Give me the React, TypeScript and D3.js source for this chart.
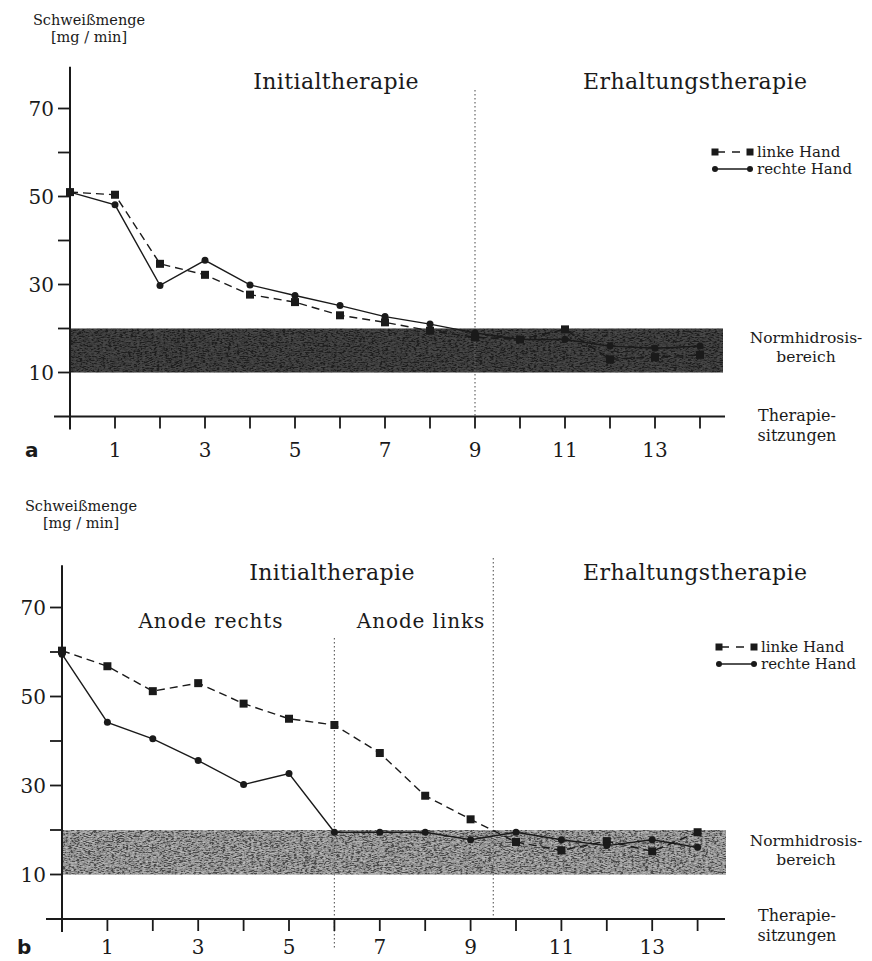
import React from "react";
import * as d3 from "d3";

const sessions = [0, 1, 2, 3, 4, 5, 6, 7, 8, 9, 10, 11, 12, 13, 14];
const xTickLabels = [1, 3, 5, 7, 9, 11, 13];
const yTickValues = [10, 20, 30, 40, 50, 60, 70];
const yTickLabels = [10, 30, 50, 70];
const normBand = [10, 20];

const topLinke = [51, 50.4, 34.7, 32.2, 27.7, 26, 23, 21.4, 19.5, 18, 17.5, 19.8, 13, 13.5, 14];
const topRechte = [51, 48.1, 29.8, 35.5, 29.9, 27.5, 25.2, 22.7, 21, 19, 17.5, 17.5, 16, 15.5, 16];

const botLinke = [60.3, 56.8, 51.2, 53, 48.4, 45, 43.6, 37.3, 27.7, 22.4, 17.3, 15.4, 17.5, 15.2, 19.5];
const botRechte = [59.5, 44.2, 40.5, 35.6, 30.2, 32.7, 19.5, 19.5, 19.5, 17.8, 19.5, 17.8, 16.5, 17.8, 16.1];

const SERIF = "'DejaVu Serif', 'Liberation Serif', serif";
const INK = "#1a1a1a";

type PanelProps = {
  x0: number; x14: number; y0: number; y70: number;
  linke: number[]; rechte: number[];
  bandFill: string; noiseOpacity: number;
  letter: string; divider: number[];
  labels: { text: string; x: number; y: number; anchor?: string; size?: number; ls?: number }[];
  legendX: number; legendY: number;
  normY: number; therY: number; titleY: number; bandRight: number;
  dividerTop: number[];
  dividerBottom: number[];
  tickLabelDy: number;
};

function Panel(p: PanelProps) {
  const x = d3.scaleLinear().domain([0, 14]).range([p.x0, p.x14]);
  const y = d3.scaleLinear().domain([0, 70]).range([p.y0, p.y70]);
  const line = d3.line<number>().x((_, i) => x(sessions[i])).y((v) => y(v));
  const axisTop = y(79.5);
  return (
    <g>
      {/* axis title */}
      <text x={p.x0 + 19} y={p.titleY} textAnchor="middle" fontFamily={SERIF} fontSize={14.5} fill={INK}>Schweißmenge</text>
      <text x={p.x0 + 19} y={p.titleY + 17} textAnchor="middle" fontFamily={SERIF} fontSize={14.5} fill={INK}>[mg  /  min]</text>
      {/* band */}
      <rect x={p.x0} y={y(normBand[1])} width={p.bandRight - p.x0} height={y(normBand[0]) - y(normBand[1])} fill={p.bandFill} />
      <rect x={p.x0} y={y(normBand[1])} width={p.bandRight - p.x0} height={y(normBand[0]) - y(normBand[1])} fill="#fff" filter="url(#noise)" opacity={p.noiseOpacity} />
      {/* dividers */}
      {p.divider.map((d, i) => (
        <line key={i} x1={x(d)} x2={x(d)} y1={p.dividerTop[i]} y2={p.dividerBottom[i]} stroke="#666" strokeWidth={1.2} strokeDasharray="1.5 2.5" />
      ))}
      {/* axes */}
      <line x1={p.x0} x2={p.x0} y1={axisTop} y2={p.y0 + 13} stroke={INK} strokeWidth={2} />
      <line x1={p.x0 - 16} x2={725} y1={p.y0} y2={p.y0} stroke={INK} strokeWidth={2} />
      {yTickValues.map((v) => (
        <line key={v} x1={p.x0 - 12} x2={p.x0} y1={y(v)} y2={y(v)} stroke={INK} strokeWidth={1.8} />
      ))}
      {yTickLabels.map((v) => (
        <text key={v} x={p.x0 - 16} y={y(v) + 7} textAnchor="end" fontFamily={SERIF} fontSize={20} fill={INK}>{v}</text>
      ))}
      {sessions.slice(1).map((s) => (
        <line key={s} x1={x(s)} x2={x(s)} y1={p.y0} y2={p.y0 + 12} stroke={INK} strokeWidth={1.8} />
      ))}
      {xTickLabels.map((s) => (
        <text key={s} x={x(s)} y={p.y0 + p.tickLabelDy} textAnchor="middle" fontFamily={SERIF} fontSize={20} fill={INK}>{s}</text>
      ))}
      <text x={p.x0 - 45} y={p.y0 + p.tickLabelDy} fontFamily="'DejaVu Sans', Arial, sans-serif" fontWeight="bold" fontSize={20} fill={INK}>{p.letter}</text>
      {/* series */}
      <path d={line(p.linke) || ""} fill="none" stroke={INK} strokeWidth={1.4} strokeDasharray="8 5" />
      <path d={line(p.rechte) || ""} fill="none" stroke={INK} strokeWidth={1.4} />
      {p.linke.map((v, i) => (
        <rect key={"s" + i} x={x(sessions[i]) - 4} y={y(v) - 4} width={8} height={8} fill={INK} />
      ))}
      {p.rechte.map((v, i) => (
        <circle key={"c" + i} cx={x(sessions[i])} cy={y(v)} r={3.5} fill={INK} />
      ))}
      {/* region labels */}
      {p.labels.map((l, i) => (
        <text key={i} x={l.x} y={l.y} textAnchor={l.anchor || "start"} fontFamily={SERIF} fontSize={l.size || 22} letterSpacing={l.ls || 0.4} fill={INK}>{l.text}</text>
      ))}
      {/* legend */}
      <line x1={p.legendX} x2={p.legendX + 35} y1={p.legendY} y2={p.legendY} stroke={INK} strokeWidth={1.4} strokeDasharray="8 7" strokeDashoffset={-2} />
      <rect x={p.legendX - 3.5} y={p.legendY - 3.5} width={7} height={7} fill={INK} />
      <rect x={p.legendX + 35 - 3.5} y={p.legendY - 3.5} width={7} height={7} fill={INK} />
      <text x={p.legendX + 42} y={p.legendY + 5} fontFamily={SERIF} fontSize={15} fill={INK}>linke Hand</text>
      <line x1={p.legendX} x2={p.legendX + 35} y1={p.legendY + 17} y2={p.legendY + 17} stroke={INK} strokeWidth={1.4} />
      <circle cx={p.legendX} cy={p.legendY + 17} r={3} fill={INK} />
      <circle cx={p.legendX + 35} cy={p.legendY + 17} r={3} fill={INK} />
      <text x={p.legendX + 42} y={p.legendY + 22} fontFamily={SERIF} fontSize={15} fill={INK}>rechte Hand</text>
      {/* right-side labels */}
      <text x={806} y={p.normY} textAnchor="middle" fontFamily={SERIF} fontSize={15.5} fill={INK}>Normhidrosis-</text>
      <text x={806} y={p.normY + 18.5} textAnchor="middle" fontFamily={SERIF} fontSize={15.5} fill={INK}>bereich</text>
      <text x={797} y={p.therY} textAnchor="middle" fontFamily={SERIF} fontSize={16} fill={INK}>Therapie-</text>
      <text x={797} y={p.therY + 20} textAnchor="middle" fontFamily={SERIF} fontSize={16} fill={INK}>sitzungen</text>
    </g>
  );
}

export default function App() {
  return (
    <svg width={872} height={961} viewBox="0 0 872 961" style={{ display: "block", position: "absolute", left: 0, top: 0, background: "#fff" }}>
      <defs>
        <filter id="noise" x="0" y="0" width="100%" height="100%">
          <feTurbulence type="fractalNoise" baseFrequency="0.35 1.2" numOctaves={2} seed={3} result="t" />
          <feColorMatrix type="saturate" values="0" in="t" result="g" />
          <feComponentTransfer in="g" result="c">
            <feFuncR type="linear" slope={3} intercept={-1.2} />
            <feFuncG type="linear" slope={3} intercept={-1.2} />
            <feFuncB type="linear" slope={3} intercept={-1.2} />
            <feFuncA type="linear" slope={0} intercept={1} />
          </feComponentTransfer>
          <feComposite in="c" in2="SourceGraphic" operator="in" />
        </filter>
      </defs>
      <rect width={872} height={961} fill="#fff" />
      <Panel
        x0={70} x14={700} y0={416.5} y70={108.5}
        linke={topLinke} rechte={topRechte}
        bandFill="#262626" noiseOpacity={0.18}
        letter="a" divider={[9]} dividerTop={[90]} dividerBottom={[416]}
        labels={[
          { text: "Initialtherapie", x: 336, y: 89, anchor: "middle" },
          { text: "Erhaltungstherapie", x: 583, y: 89 },
        ]}
        legendX={715} legendY={152}
        normY={343} therY={421} titleY={25} bandRight={723}
        tickLabelDy={40}
      />
      <Panel
        x0={62} x14={697.6} y0={919} y70={607.5}
        linke={botLinke} rechte={botRechte}
        bandFill="#8a8a8a" noiseOpacity={0.45}
        letter="b" divider={[6, 9.5]} dividerTop={[638, 558]} dividerBottom={[950, 922]}
        labels={[
          { text: "Initialtherapie", x: 332, y: 580, anchor: "middle" },
          { text: "Erhaltungstherapie", x: 583, y: 580 },
          { text: "Anode  rechts", x: 211, y: 628, anchor: "middle", size: 20, ls: 0.9 },
          { text: "Anode  links", x: 421, y: 628, anchor: "middle", size: 20, ls: 0.9 },
        ]}
        legendX={719} legendY={647}
        normY={846} therY={921} titleY={511} bandRight={726}
        tickLabelDy={35}
      />
    </svg>
  );
}
